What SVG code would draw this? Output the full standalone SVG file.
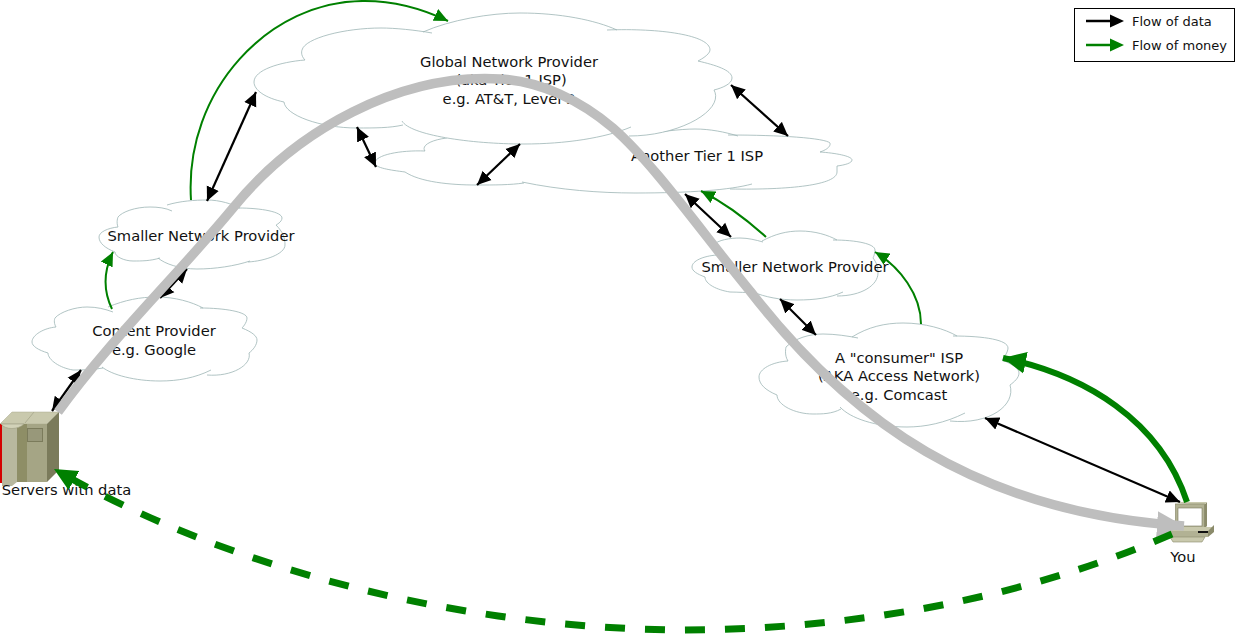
<svg xmlns="http://www.w3.org/2000/svg" width="1237" height="634" viewBox="0 0 1237 634">
<style>
text{font-family:"DejaVu Sans",sans-serif;font-size:14.7px;fill:#111;text-anchor:middle}
.fill{fill:#fff;stroke:none}
.line{fill:none;stroke:#9db5b5;stroke-width:.8}
.d{fill:none;stroke:#000;stroke-width:2.200;marker-start:url(#bk);marker-end:url(#bk)}
.g{fill:none;stroke:#008000;stroke-width:2;marker-end:url(#gr)}
text.legend{font-size:13px;text-anchor:start}
</style>
<defs>
<marker id="bk" markerUnits="userSpaceOnUse" markerWidth="15" markerHeight="14" refX="14" refY="7" orient="auto-start-reverse"><path d="M0,0.500L14,7L0,13.500z" fill="#000"/></marker>
<marker id="gr" markerUnits="userSpaceOnUse" markerWidth="15" markerHeight="14" refX="14" refY="7" orient="auto"><path d="M0,0.500L14,7L0,13.500z" fill="#008000"/></marker>
<marker id="gl" markerUnits="userSpaceOnUse" markerWidth="24" markerHeight="24" refX="23" refY="12" orient="auto-start-reverse"><path d="M0,1L23,12L0,23z" fill="#008000"/></marker>
<marker id="ga" markerUnits="userSpaceOnUse" markerWidth="28" markerHeight="28" refX="27" refY="14" orient="auto"><path d="M0,1L27,14L0,27z" fill="#bebebe"/></marker>
</defs>

<g id="tier1-other">
<path class="fill" d="M425,151C400,150 375,155 375,163C375,168 390,170 405,172C420,182 450,185 476,185L522,182C560,190 600,193 635,193L730,189C790,190 837,185 837,172L837,166C845,165 852,163 852,160C852,156 835,153 820,152C832,148 830,143 830,143C825,138 780,135 738,136C720,130 700,129 695,129L631,135L445,137C430,140 421,146 425,151z"/>
<path class="line" d="M447,138C430,140 421,146 425,151C400,150 375,155 375,163C375,168 390,170 405,172C420,182 450,185 476,185C495,185 510,185 524,183M522,182C560,190 600,193 635,193C690,193 730,190 752,184M730,189C790,190 837,185 837,172C837,170 837,168 837,166C845,165 852,163 852,160C852,156 835,153 820,152C832,148 830,143 830,143C825,138 780,135 728,135M631,135C660,132 680,129 695,129C710,129 725,132 738,136"/>
<text x="697" y="161">Another Tier 1 ISP</text>
</g>

<g id="global">
<path class="fill" d="M423,32C450,20 490,13 520,13C560,13 595,20 617,30C660,28 710,35 710,50C710,55 698,61 698,61C715,65 732,70 732,78C732,84 722,88 714,90C725,110 680,136 629,136L524,144C470,144 410,135 403,125C390,128 375,128 357,128C320,128 285,115 284,102C265,98 254,90 254,82C254,70 280,62 305,60C300,55 302,50 302,50C305,38 345,28 381,28C395,28 410,30 423,32z"/>
<path class="line" d="M423,32C450,20 490,13 520,13C560,13 595,20 617,30M607,30C660,28 710,35 710,50C710,55 698,61 698,61C715,65 732,70 732,78C732,84 722,88 714,90C725,110 680,136 629,136M631,127C605,138 565,144 524,144C470,144 410,135 402,121M403,125C390,128 375,128 357,128C320,128 285,115 284,102C265,98 254,90 254,82C254,70 280,62 305,60C300,55 302,50 302,50C305,38 345,28 381,28C395,28 415,30 432,33"/>
<text x="509" y="67">Global Network Provider</text>
<text x="511" y="85">(aka Tier 1 ISP)</text>
<text x="509" y="104">e.g. AT&amp;T, Level 3</text>
</g>

<g id="smaller-left">
<path class="fill" d="M167,205C180,201 195,200 207,200C220,200 232,204 240,208C262,208 282,212 282,218C282,222 276,225 276,225C283,232 285,238 285,245C285,254 265,261 250,261C235,266 215,269 197,269C180,269 165,264 158,258C150,261 142,261 133,261C125,261 115,257 115,252C105,248 99,243 99,237C99,232 108,228 118,227C116,222 118,217 118,217C122,212 135,207 150,207C155,207 160,208 167,205z"/>
<path class="line" d="M167,205C180,201 195,200 207,200C220,200 232,204 240,208M238,208C262,208 282,212 282,218C282,222 276,225 276,225C283,232 285,238 285,245C285,254 265,261 248,262M250,261C235,266 215,269 197,269C180,269 165,264 158,258M160,258C150,261 142,261 133,261C125,261 115,257 115,252C105,248 99,243 99,237C99,232 108,228 118,227C116,222 118,217 118,217C122,212 135,207 150,207C158,207 166,208 172,211"/>
<text x="201" y="241">Smaller Network Provider</text>
</g>

<g id="content">
<path class="fill" d="M108,307C125,300 140,297 157,297C175,297 192,302 203,308C225,308 247,312 247,318C247,323 242,328 242,328C252,332 257,336 257,340C257,345 253,350 249,353C252,365 232,377 207,375C195,380 178,381 160,381C135,381 112,375 102,367C90,370 80,370 73,370C60,368 48,360 48,353C38,350 32,346 32,342C32,335 44,328 56,327C53,322 55,318 55,318C60,312 75,307 87,307C95,307 100,307 108,307z"/>
<path class="line" d="M108,307C125,300 140,297 157,297C175,297 192,302 203,308M200,308C225,308 247,312 247,318C247,323 242,328 242,328C252,332 257,336 257,340C257,345 253,350 249,353C252,365 232,377 207,375M211,370C195,378 178,381 160,381C135,381 112,375 102,367M103,368C92,370 82,370 73,370C60,368 48,360 48,353C38,350 32,346 32,342C32,335 44,328 56,327C53,322 55,318 55,318C60,312 75,307 87,307C97,307 105,309 113,312"/>
<text x="154" y="336">Content Provider</text>
<text x="154" y="355">e.g. Google</text>
</g>

<g id="smaller-right">
<path class="fill" d="M762,241C775,234 787,231 800,231C815,231 828,235 837,240C857,240 875,244 875,250C875,254 873,258 873,258C877,263 878,268 878,273C878,285 862,296 847,296C830,298 815,300 797,300C780,300 765,297 753,292C745,292 737,292 730,292C717,290 705,284 705,277C697,274 692,271 692,267C692,261 703,256 717,255C712,250 713,245 713,245C718,240 730,238 740,238C748,238 755,239 762,241z"/>
<path class="line" d="M762,241C775,234 787,231 800,231C815,231 828,235 837,240M833,240C857,240 875,244 875,250C875,254 873,258 873,258C877,263 878,268 878,273C878,285 862,296 837,296M843,292C830,298 815,300 797,300C780,300 765,297 753,292M755,292C747,293 738,292 730,292C717,290 705,284 705,277C697,274 692,271 692,267C692,261 703,256 717,255C712,250 713,245 713,245C718,240 730,238 740,238C748,238 756,240 763,242"/>
<text x="795" y="272">Smaller Network Provider</text>
</g>

<g id="consumer">
<path class="fill" d="M852,337C868,327 885,323 903,323C925,323 945,329 957,336C985,336 1008,340 1008,348C1008,353 1002,360 1002,360C1012,364 1019,368 1019,373C1019,378 1014,382 1010,385C1016,405 990,425 950,421C945,425 925,427 907,427C875,427 850,418 841,409C832,414 822,414 813,414C795,414 777,405 777,395C765,390 759,384 759,377C759,369 772,362 788,361C784,355 786,347 786,347C795,338 810,334 823,334C835,334 845,336 852,337z"/>
<path class="line" d="M852,337C868,327 885,323 903,323C925,323 945,329 957,336M953,336C985,336 1008,340 1008,348C1008,353 1002,360 1002,360C1012,364 1019,368 1019,373C1019,378 1014,382 1010,385C1016,405 990,425 950,421M965,413C945,423 925,427 907,427C875,427 850,418 840,407M841,409C832,414 822,414 813,414C795,414 777,405 777,395C765,390 759,384 759,377C759,369 772,362 788,361C784,355 786,347 786,347C795,338 810,334 823,334C835,334 848,336 858,338"/>
<text x="899" y="363">A "consumer" ISP</text>
<text x="899" y="381">(AKA Access Network)</text>
<text x="899" y="400">e.g. Comcast</text>
</g>

<g id="servers">
<path d="M0,424L12,412H59L47,424z" fill="#c9c9ad" stroke="#a8a88c" stroke-width=".5"/>
<path d="M47,424L59,412V470L47,482z" fill="#7b7b5b"/>
<rect x="2" y="424" width="45" height="58" fill="#a5a585"/>
<rect x="0" y="424" width="2" height="59" fill="#d40000"/>
<path d="M2,425H17V482L12,486H2z" fill="#b8b89e"/>
<path d="M17,424H27V482H17z" fill="#8e8e66"/>
<path d="M1,424C5,430 18,430 24,424z" fill="#d2d2b8" stroke="#9c9c80" stroke-width=".6"/>
<path d="M25,423L34,412" stroke="#aeae92" fill="none"/>
<rect x="27.500" y="428.500" width="15" height="13" fill="#98987a" stroke="#7b7b5b"/>
<text x="66.500" y="495">Servers with data</text>
</g>

<g id="you">
<path d="M1204,505L1207,502V526L1203,530z" fill="#8b8b6b"/>
<path d="M1176,503L1179,502H1207L1204,505z" fill="#c9c9ad"/>
<rect x="1175.500" y="504" width="29" height="26" fill="#b2b294" stroke="#8b8b6b" stroke-width=".7"/>
<rect x="1178" y="508" width="24" height="18" fill="#fff" stroke="#77775a" stroke-width=".6"/>
<path d="M1169,531L1175,527H1214L1208,531z" fill="#c9c9ad"/>
<path d="M1208,531L1214,525V532L1208,537z" fill="#8b8b6b"/>
<rect x="1169" y="531" width="39" height="6" fill="#b2b294"/>
<rect x="1198" y="531" width="10" height="2" fill="#111"/>
<path d="M1170,537H1205L1202,542H1173z" fill="#c9c9ad" stroke="#8b8b6b" stroke-width=".6"/>
<text x="1183" y="562">You</text>
</g>

<g id="connectors">
<path class="d" d="M207,201L256,92"/>
<path class="d" d="M357,127L376,167"/>
<path class="d" d="M477,185L520,144"/>
<path class="d" d="M731,85L788,136"/>
<path class="d" d="M685,194L731,237"/>
<path class="d" d="M780,299L816,335"/>
<path class="d" d="M985,418L1180,502"/>
<path class="d" d="M160,298L187,269"/>
<path class="d" d="M52,411L81,370"/>
<path class="g" d="M191,200C184,90 270,0 365,1C395,1 425,10 448,21"/>
<path class="g" d="M112,309C103,290 104,270 113,252"/>
<path class="g" d="M766,237C745,218 725,203 701,191"/>
<path class="g" d="M921,324C921,295 900,267 875,252"/>
<path fill="none" stroke="#bebebe" stroke-width="9.500" marker-end="url(#ga)" d="M58,412C110,340 175,278 233,208C296,130 400,73 500,79C540,81 580,100 613,128C655,165 700,230 750,291C850,420 975,512 1184,526"/>
<path fill="none" stroke="#008000" stroke-width="6" marker-end="url(#gl)" d="M1187,502C1160,420 1085,375 1003,358"/>
<path fill="none" stroke="#008000" stroke-width="7" stroke-dasharray="20 20" stroke-dashoffset="-18" marker-start="url(#gl)" d="M54,469C230,570 460,628 680,630C850,630 1020,600 1172,534"/>
</g>

<g id="legend">
<rect x="1074.500" y="8.500" width="160" height="53" fill="#fff" stroke="#000"/>
<path d="M1086,21H1112" stroke="#000" stroke-width="2.500"/>
<path d="M1110,14.500L1124,21L1110,27.500z" fill="#000"/>
<path d="M1086,45H1112" stroke="#008000" stroke-width="2.500"/>
<path d="M1110,38.500L1124,45L1110,51.500z" fill="#008000"/>
<text class="legend" x="1132" y="26">Flow of data</text>
<text class="legend" x="1132" y="50">Flow of money</text>
</g>
</svg>
